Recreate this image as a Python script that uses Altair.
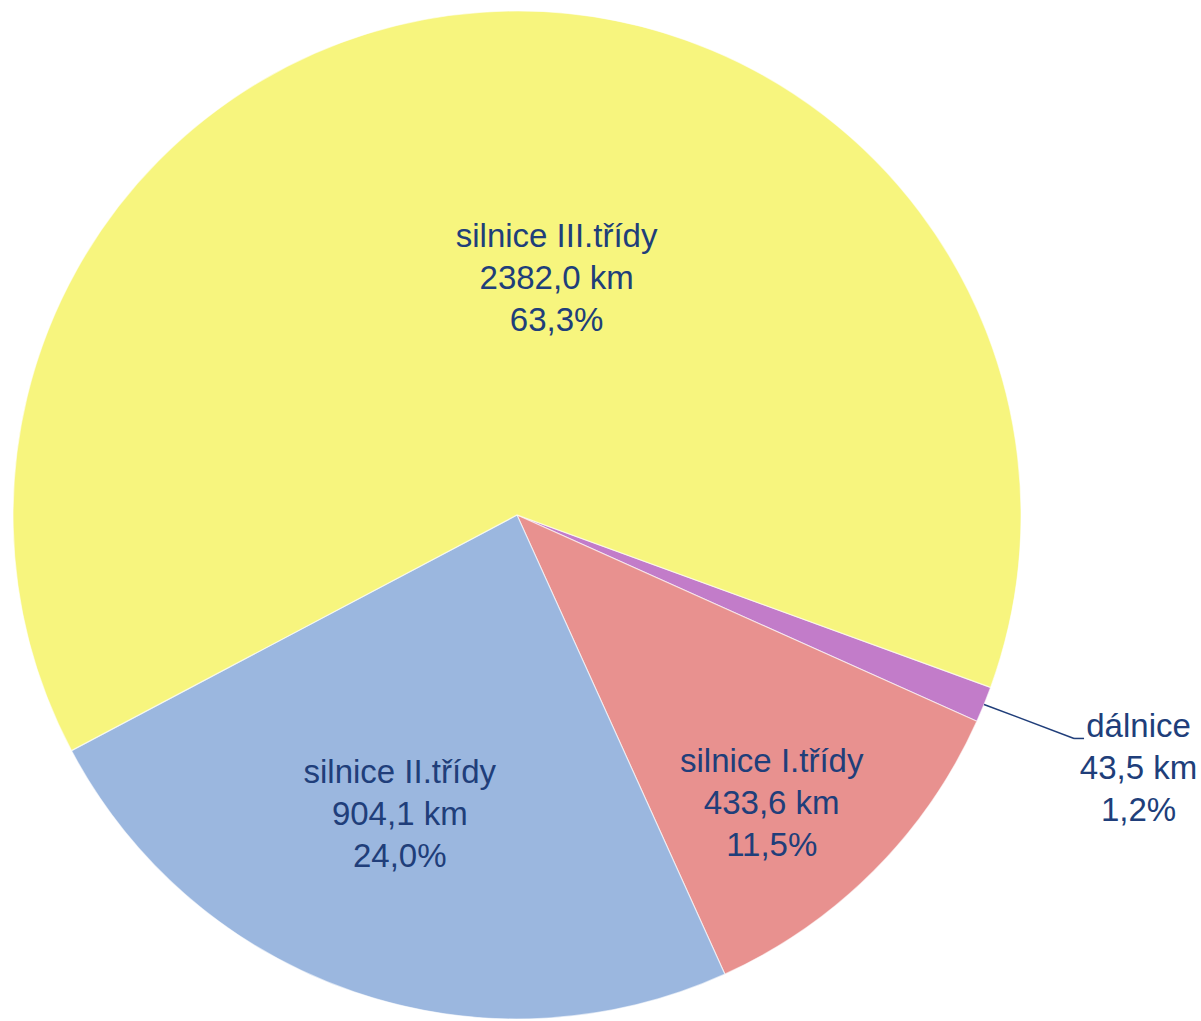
import altair as alt
import pandas as pd
import math

categories = ["dálnice", "silnice I.třídy", "silnice II.třídy", "silnice III.třídy"]
lengths = [43.5, 433.6, 904.1, 2382.0]
km_labels = ["43,5 km", "433,6 km", "904,1 km", "2382,0 km"]
pct_labels = ["1,2%", "11,5%", "24,0%", "63,3%"]
colors = ["#C27CC9", "#E8918F", "#9BB7DF", "#F7F57E"]

df = pd.DataFrame({
    "cat": categories,
    "val": lengths,
    "idx": list(range(len(categories))),
    "label": [f"{c}\n{k}\n{p}" for c, k, p in zip(categories, km_labels, pct_labels)],
})

W, H = 1034, 1012
R = 504
START = math.radians(110.0)
FONT = "Liberation Sans Narrow, Arial Narrow, Liberation Sans, sans-serif"
TXT = "#203E7A"
LH = 42

theta = alt.Theta("val:Q", stack=True, scale=alt.Scale(range=[START, START + 2 * math.pi]))
color = alt.Color("cat:N", scale=alt.Scale(domain=categories, range=colors), legend=None)
order = alt.Order("idx:Q")

base = alt.Chart(df)

arcs = base.mark_arc(outerRadius=R, stroke="#ffffff", strokeWidth=1.2, strokeOpacity=0.6).encode(
    theta=theta, color=color, order=order
)

# label placement: (category, radius, dx, dy) for the middle line
placements = [
    ("dálnice", 661, 9, 6),
    ("silnice I.třídy", 385, -18, 17),
    ("silnice II.třídy", 322, -13, -5),
    ("silnice III.třídy", 239, 56, 2),
]
text_layers = []
for cat, rad, dx, dy in placements:
    t = base.mark_text(
        radius=rad, dx=dx, dy=dy - LH, font=FONT, fontSize=33, color=TXT,
        lineBreak="\n", lineHeight=LH, align="center", baseline="middle",
    ).encode(
        theta=theta, order=order, text="label:N",
        opacity=alt.condition(alt.datum.cat == cat, alt.value(1), alt.value(0)),
    )
    text_layers.append(t)

# leader line for the small slice, from its outer edge midpoint
leader_base = base.transform_joinaggregate(total="sum(val)").transform_window(
    cum="sum(val)", sort=[alt.SortField("idx")]
).transform_calculate(
    mid=f"{START} + 2*PI*(datum.cum - datum.val/2)/datum.total",
).transform_calculate(
    sx=f"{W/2} + {R}*sin(datum.mid)",
    sy=f"{H/2} - {R}*cos(datum.mid)",
).transform_calculate(
    ex="datum.sx + 90", ey="datum.sy + 34", fx="datum.sx + 100",
).transform_filter(alt.datum.cat == "dálnice")

leader1 = leader_base.mark_rule(color=TXT, strokeWidth=1.5).encode(
    x=alt.X("sx:Q", scale=None), y=alt.Y("sy:Q", scale=None),
    x2="ex:Q", y2="ey:Q",
)
leader2 = leader_base.mark_rule(color=TXT, strokeWidth=1.5).encode(
    x=alt.X("ex:Q", scale=None), y=alt.Y("ey:Q", scale=None),
    x2="fx:Q", y2="ey:Q",
)

chart = alt.layer(arcs, leader1, leader2, *text_layers).properties(
    width=W, height=H,
    autosize=alt.AutoSizeParams(type="none"),
    padding={"left": 0, "top": 9, "right": 167, "bottom": 0},
).configure_view(stroke=None)

chart.save("out.html", embed_options={"renderer": "svg", "actions": False})
